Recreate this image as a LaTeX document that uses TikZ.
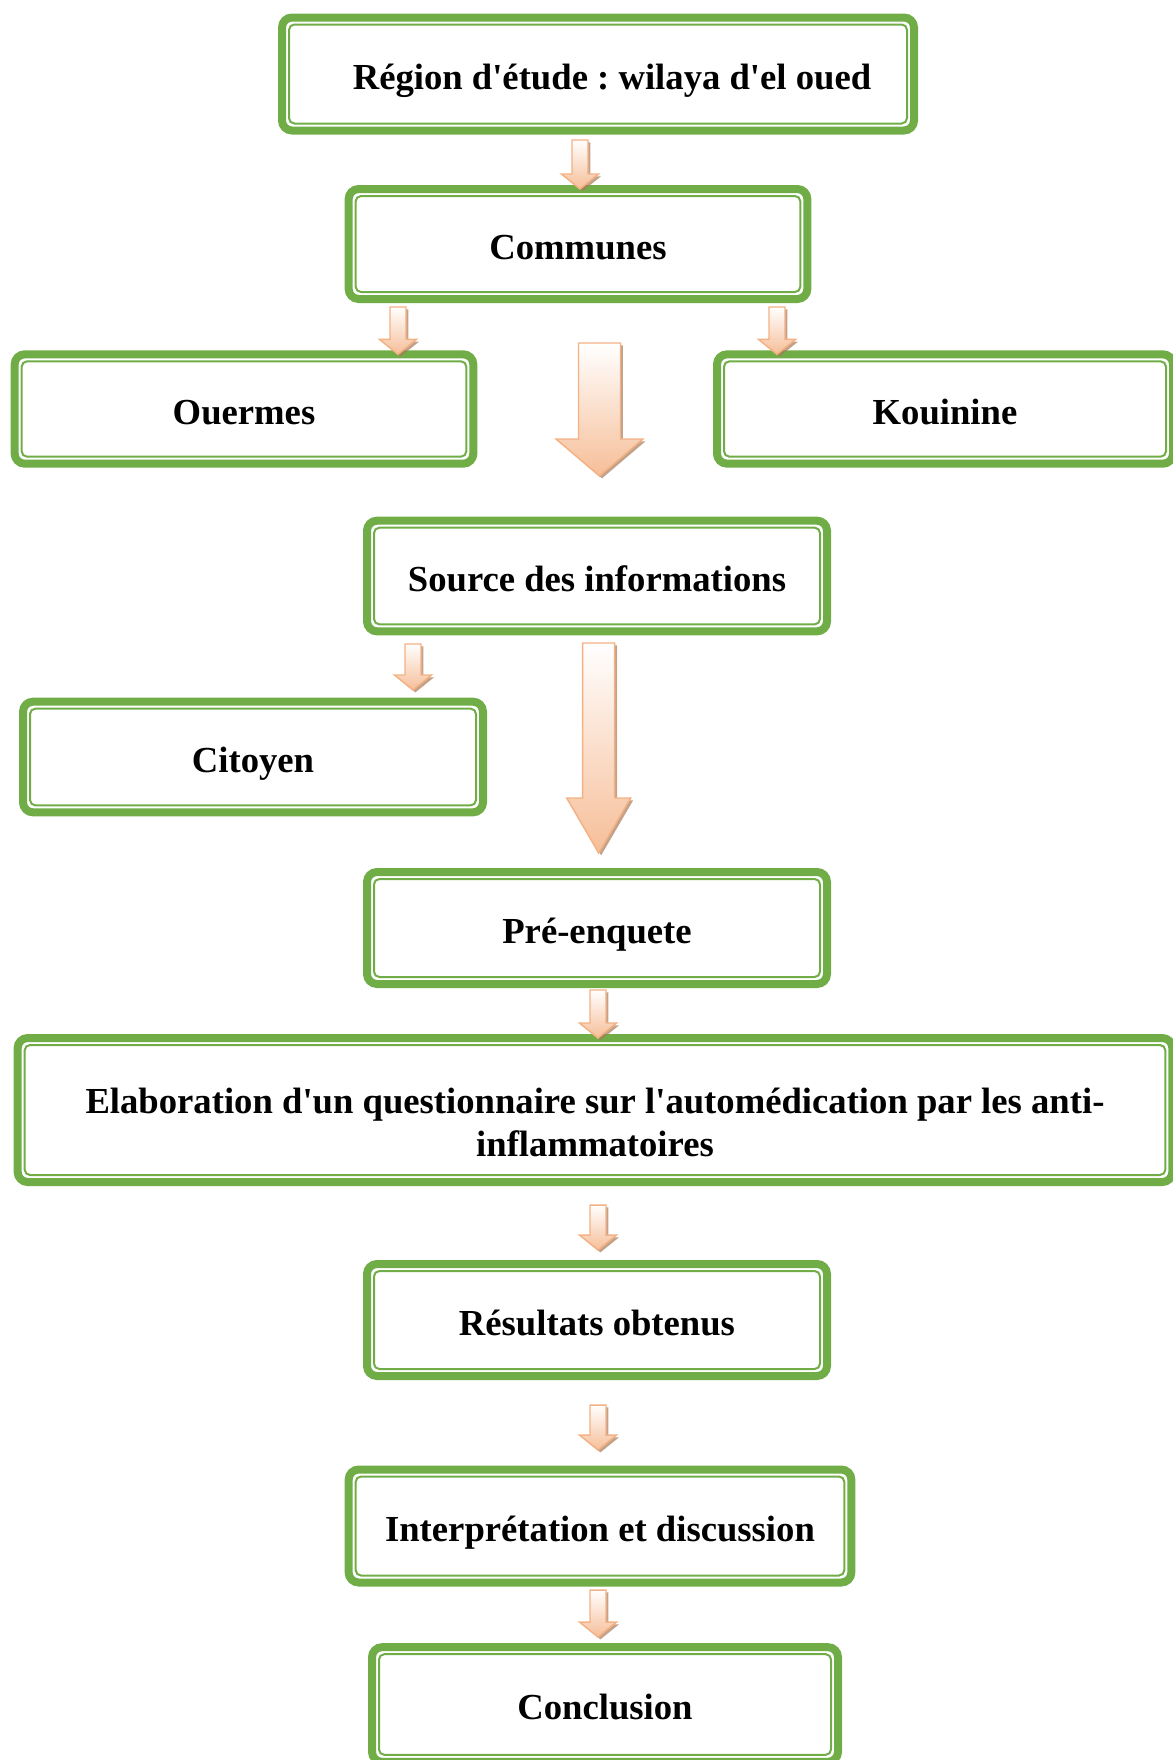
\documentclass[tikz,border=0pt]{standalone}
\usepackage{fontspec}
\setmainfont{Liberation Serif}[Ligatures=TeXOff]
\usetikzlibrary{calc,shadows}
\definecolor{bxgreen}{HTML}{70AD47}
\definecolor{arline}{HTML}{F4B183}
\definecolor{arfill}{HTML}{F6BE98}
\definecolor{arshade}{HTML}{A87A58}
\newcommand{\blkarrow}[5]{\path[blk] let \p1=(#1),\p2=(#2) in
 (\x1-#3,\y1)--(\x1+#3,\y1)--(\x1+#3,\y2+#5)--(\x1+#4,\y2+#5)--(\x1,\y2)--(\x1-#4,\y2+#5)--(\x1-#3,\y2+#5)--cycle;}
\tikzset{bx/.style={draw=bxgreen,line width=6pt,rounded corners=7.5pt,outer sep=0pt,inner sep=0pt,
  minimum width=345pt,minimum height=83pt,align=center,font=\bfseries\fontsize{27.5}{32}\selectfont,
  text height=23pt,text depth=0pt,
  append after command={\pgfextra{\draw[draw=bxgreen,line width=1.5pt,rounded corners=4pt]
   ([shift={(5.25pt,5.25pt)}]\tikzlastnode.south west) rectangle ([shift={(-5.25pt,-5.25pt)}]\tikzlastnode.north east);}}},
 blk/.style={draw=arline,line width=1.1pt,top color=white,bottom color=arfill,
  drop shadow={shadow xshift=1.8pt,shadow yshift=-1.8pt,fill=arshade,opacity=.7}}}
\frenchspacing
\begin{document}
\begin{tikzpicture}[x=0.75pt,y=-0.75pt]
\useasboundingbox (0,0) rectangle (1173,1760);
\node[bx,minimum width=474pt,minimum height=84.75pt](region) at (598,74){\hspace*{21pt}Région d'étude : wilaya d'el oued};
\node[bx,minimum width=344pt,minimum height=82.5pt](comm) at (578,244){Communes};
\node[bx,minimum width=344pt,minimum height=82pt](ouer) at (244,409){Ouermes};
\node[bx,minimum width=342pt,minimum height=82pt](kouin) at (945,409){Kouinine};
\node[bx](source) at (597,576){Source des informations};
\node[bx](citoy) at (253,757){Citoyen};
\node[bx,minimum height=84pt](pre) at (597,928){Pré-enquete};
\node[bx,minimum width=866pt,minimum height=108pt,text height={},text depth={}](elab) at (595,1110)
 {\rule{0pt}{38pt}Elaboration d'un questionnaire sur l'automédication par les anti-\\inflammatoires};
\node[bx,minimum height=84pt](resul) at (597,1320){Résultats obtenus};
\node[bx,minimum width=377pt,minimum height=84.75pt](interp) at (600,1526){Interprétation et discussion};
\node[bx,minimum width=349.5pt,minimum height=86pt](concl) at (605,1704.5){Conclusion};
% small arrows
\coordinate(s1) at (580,140);\coordinate(s2) at (398,307);\coordinate(s3) at (777,307);
\coordinate(s4) at (413,644);\coordinate(e4) at (413,690);
\coordinate(s5) at (598,990);
\coordinate(s6) at (598,1205);\coordinate(e6) at (598,1250);
\coordinate(s7) at (598,1405);\coordinate(e7) at (598,1450);
\coordinate(s8) at (598,1590);\coordinate(e8) at (598,1637);
\blkarrow{s1}{comm.north -| s1}{6pt}{13.9pt}{11.25pt}
\blkarrow{s2}{ouer.north -| s2}{6pt}{13.9pt}{11.25pt}
\blkarrow{s3}{kouin.north -| s3}{6pt}{13.9pt}{11.25pt}
\blkarrow{s4}{e4}{6pt}{13.9pt}{11.25pt}
\blkarrow{s5}{elab.north -| s5}{6pt}{13.9pt}{11.25pt}
\blkarrow{s6}{e6}{6pt}{13.9pt}{11.25pt}
\blkarrow{s7}{e7}{6pt}{13.9pt}{11.25pt}
\blkarrow{s8}{e8}{6pt}{13.9pt}{11.25pt}
% big arrows
\coordinate(b1) at (599.5,343);\coordinate(t1) at (599.5,476);
\coordinate(b2) at (598.7,643);\coordinate(t2) at (598.7,853);
\blkarrow{b1}{t1}{15.75pt}{32.6pt}{27.75pt}
\blkarrow{b2}{t2}{12pt}{24pt}{41.25pt}
\end{tikzpicture}
\end{document}
